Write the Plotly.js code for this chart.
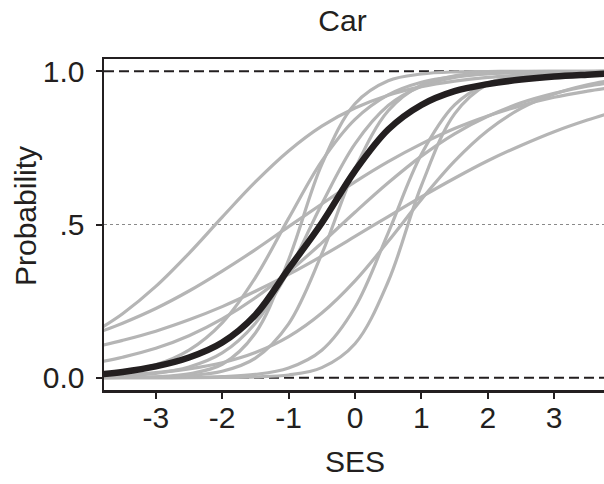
<!DOCTYPE html>
<html>
<head>
<meta charset="utf-8">
<script src="https://cdn.plot.ly/plotly-3.0.1.min.js"></script>
<style>
html, body { margin: 0; padding: 0; overflow: hidden; background: #fff; }
#chart { width: 610px; height: 484px; }
</style>
</head>
<body>
<div id="chart"></div>
<script>
// SES values at which each curve was read
var ses = [-3.8, -3.5, -3, -2.5, -2, -1.5, -1, -0.5, 0, 0.5, 1, 1.5, 2, 2.5, 3, 3.5, 3.8];

// individual (gray) probability curves
var curve1  = [0.166, 0.209, 0.298, 0.406, 0.524, 0.639, 0.740, 0.821, 0.880, 0.922, 0.950, 0.968, 0.980, 0.987, 0.992, 0.995, 0.996];
var curve2  = [0.106, 0.122, 0.152, 0.189, 0.232, 0.282, 0.337, 0.397, 0.461, 0.526, 0.590, 0.651, 0.708, 0.758, 0.803, 0.841, 0.861];
var curve3  = [0.053, 0.067, 0.096, 0.137, 0.192, 0.261, 0.345, 0.440, 0.540, 0.636, 0.723, 0.796, 0.853, 0.897, 0.928, 0.951, 0.961];
var curve4  = [0.007, 0.010, 0.017, 0.029, 0.049, 0.082, 0.134, 0.211, 0.316, 0.445, 0.582, 0.707, 0.807, 0.879, 0.926, 0.956, 0.968];
var curve5  = [0.000, 0.000, 0.000, 0.001, 0.004, 0.011, 0.032, 0.090, 0.230, 0.473, 0.729, 0.890, 0.960, 0.986, 0.995, 0.998, 0.999];
var curve6  = [0.000, 0.000, 0.000, 0.000, 0.001, 0.003, 0.009, 0.033, 0.111, 0.314, 0.627, 0.861, 0.958, 0.988, 0.997, 0.999, 1.000];
var curve7  = [0.012, 0.020, 0.042, 0.090, 0.179, 0.327, 0.520, 0.707, 0.843, 0.923, 0.964, 0.983, 0.992, 0.997, 0.998, 0.999, 0.999];
var curve8  = [0.000, 0.001, 0.003, 0.013, 0.044, 0.146, 0.385, 0.696, 0.894, 0.969, 0.991, 0.998, 0.999, 1.000, 1.000, 1.000, 1.000];
var curve9  = [0.003, 0.006, 0.014, 0.035, 0.081, 0.178, 0.348, 0.567, 0.763, 0.888, 0.951, 0.980, 0.992, 0.997, 0.999, 0.999, 1.000];
var curve10 = [0.000, 0.001, 0.002, 0.007, 0.021, 0.064, 0.176, 0.404, 0.681, 0.871, 0.955, 0.985, 0.995, 0.999, 1.000, 1.000, 1.000];
var curve11 = [0.153, 0.178, 0.226, 0.283, 0.348, 0.418, 0.493, 0.567, 0.639, 0.705, 0.763, 0.813, 0.854, 0.888, 0.915, 0.935, 0.945];

// average (black) curve
var meanCurve = [0.012, 0.019, 0.037, 0.066, 0.115, 0.205, 0.355, 0.505, 0.675, 0.810, 0.890, 0.935, 0.958, 0.973, 0.983, 0.989, 0.992];

// axes ticks and reference lines
var xTickVals = [-3, -2, -1, 0, 1, 2, 3];
var xTickText = ['-3', '-2', '-1', '0', '1', '2', '3'];
var yTickVals = [0, 0.5, 1];
var yTickText = ['0.0', '.5', '1.0'];
var dashedRefs = [0, 1];
var dottedRefs = [0.5];

var grayCurves = [curve1, curve2, curve3, curve4, curve5, curve6, curve7, curve8, curve9, curve10, curve11];

var INK = '#231f20';
var FONT = '"Liberation Sans", Arial, Helvetica, sans-serif';

var traces = grayCurves.map(function (ys) {
  return {
    x: ses, y: ys, type: 'scatter', mode: 'lines',
    line: { color: '#b5b5b5', width: 3.2, shape: 'spline', smoothing: 1 },
    hoverinfo: 'skip', showlegend: false
  };
});
traces.push({
  x: ses, y: meanCurve, type: 'scatter', mode: 'lines',
  line: { color: INK, width: 6.5, shape: 'spline', smoothing: 1 },
  hoverinfo: 'skip', showlegend: false
});

var shapes = [];
dashedRefs.forEach(function (v) {
  shapes.push({ type: 'line', xref: 'paper', x0: 0, x1: 1, yref: 'y', y0: v, y1: v,
    layer: 'below', line: { color: INK, width: 2, dash: '10px,5px' } });
});
dottedRefs.forEach(function (v) {
  shapes.push({ type: 'line', xref: 'paper', x0: 0, x1: 1, yref: 'y', y0: v, y1: v,
    layer: 'below', line: { color: '#8a8a8a', width: 1.2, dash: 'dot' } });
});

var layout = {
  width: 610, height: 484,
  margin: { l: 104, r: 4, t: 59, b: 94, pad: 0 },
  paper_bgcolor: '#fff', plot_bgcolor: '#fff',
  font: { family: FONT, color: INK, size: 30 },
  title: { text: 'Car', font: { family: FONT, size: 30, color: INK },
    xref: 'container', x: 342.5 / 610, xanchor: 'center',
    yref: 'container', y: 1 - 20 / 484, yanchor: 'middle' },
  xaxis: {
    range: [-3.78, 3.78], tickvals: xTickVals, ticktext: xTickText,
    ticks: 'outside', ticklen: 6, tickwidth: 2, tickcolor: INK,
    ticklabelstandoff: -7,
    showline: true, linewidth: 2.5, linecolor: INK, mirror: true,
    showgrid: false, zeroline: false,
    tickfont: { family: FONT, size: 30, color: INK },
    title: { text: 'SES', font: { family: FONT, size: 30, color: INK }, standoff: 19 }
  },
  yaxis: {
    range: [-0.04, 1.04], tickvals: yTickVals, ticktext: yTickText,
    ticks: 'outside', ticklen: 6, tickwidth: 2, tickcolor: INK,
    ticklabelstandoff: 5,
    showline: true, linewidth: 2.5, linecolor: INK, mirror: true,
    showgrid: false, zeroline: false,
    tickfont: { family: FONT, size: 30, color: INK }
  },
  annotations: [{
    text: 'Probability', textangle: -90, showarrow: false,
    xref: 'paper', x: (25 - 104) / 502, xanchor: 'center',
    yref: 'paper', y: (390 - 216) / 331, yanchor: 'middle',
    font: { family: FONT, size: 30, color: INK }
  }],
  shapes: shapes,
  showlegend: false
};

Plotly.newPlot('chart', traces, layout, { staticPlot: true, displayModeBar: false });
</script>
</body>
</html>
